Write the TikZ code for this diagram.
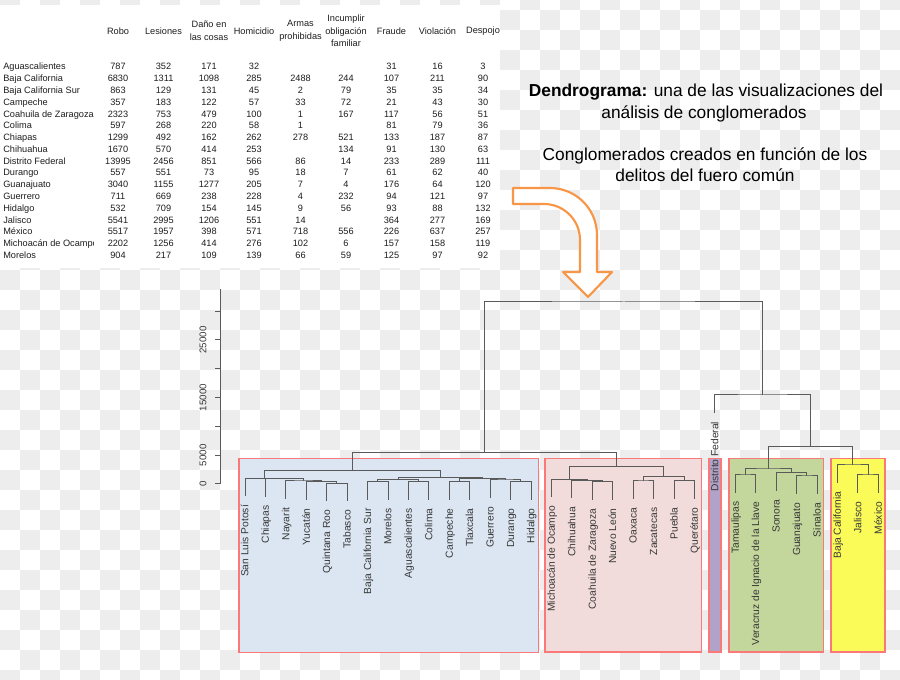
\documentclass[tikz,border=0pt]{standalone}
\usepackage{fontspec}
\setmainfont{Liberation Sans}
\usetikzlibrary{positioning, calc}

\definecolor{checkg}{RGB}{237,237,237}
\definecolor{tabink}{RGB}{30,30,30}
\definecolor{labink}{RGB}{55,55,55}
\definecolor{linegray}{RGB}{90,90,90}
\definecolor{boxred}{RGB}{250,120,120}
\definecolor{bluefill}{RGB}{220,230,242}
\definecolor{pinkfill}{RGB}{242,220,219}
\definecolor{lilacfill}{RGB}{178,162,199}
\definecolor{greenfill}{RGB}{195,214,155}
\definecolor{yellowfill}{RGB}{250,250,88}
\definecolor{arroworange}{RGB}{247,150,70}

% leaf of the dendrogram: end of the hanging line, and its label
\newcommand{\dleaf}[4]{%
  \coordinate (#1) at ({245+20.43*#2},{#3+18});
  \node[leaflab] (#1lab) at ({245+20.43*#2},{#3+26.5}) {#4};}
% merge of two branches at a given height
\newcommand{\dmerge}[4]{%
  \path (#2) -- (#3) coordinate[pos=.5] (#1M);
  \coordinate (#1H) at (0,#4);
  \coordinate (#1) at (#1M |- #1H);
  \draw[dlink] (#2) |- (#1) -| (#3);}

\begin{document}
\begin{tikzpicture}[x=0.75pt, y=-0.75pt,
  tabtxt/.style={font=\fontsize{6.9}{8}\selectfont, text=tabink, inner sep=0pt},
  tabhead/.style={tabtxt, align=center, font=\fontsize{6.9}{9.5}\selectfont},
  ttl/.style={font=\fontsize{13}{16}\selectfont, text=black, inner sep=0pt},
  leaflab/.style={font=\fontsize{7.7}{9}\selectfont, text=labink, rotate=90,
    anchor=east, inner sep=0pt, text height=.72em, text depth=.2em},
  axlab/.style={font=\fontsize{7.3}{9}\selectfont, text=labink, rotate=90, inner sep=0pt},
  dlink/.style={draw=linegray, line width=0.75pt},
  axisln/.style={draw=linegray, line width=0.75pt},
  clbox/.style={draw=boxred, line width=1pt},
  bigarrow/.style={draw=arroworange, line width=1.6pt, fill=white, line join=round}
]
  \useasboundingbox (0,0) rectangle (900,680);
  \clip (0,0) rectangle (900,680);

  % checkerboard background
  \foreach \j in {-1,...,33} {
    \foreach \i in {0,...,44} {
      \ifodd\numexpr\i+\j+2\relax
        \fill[checkg] ({20*\i},{10+20*\j}) rectangle +(20,20);
      \fi
    }
  }

  % data table
  \fill[white] (0,5) rectangle (500,268);
  \node[tabhead] (h-robo) at (118,31) {Robo};
  \node[tabhead] (h-les) at (163.5,31) {Lesiones};
  \node[tabhead] (h-dano) at (209,31) {Daño en\\las cosas};
  \node[tabhead] (h-hom) at (254,31) {Homicidio};
  \node[tabhead] (h-armas) at (300.5,31) {Armas\\prohibidas};
  \node[tabhead] (h-inc) at (346,31) {Incumplir\\obligación\\familiar};
  \node[tabhead] (h-fra) at (391.5,31) {Fraude};
  \node[tabhead] (h-vio) at (437.5,31) {Violación};
  \node[tabhead] (h-desp) at (483,31) {Despojo};

  \begin{scope}
    \clip (0,5) rectangle (93,268);
    \foreach \nm [count=\k from 0] in {Aguascalientes, Baja California,
      Baja California Sur, Campeche, Coahuila de Zaragoza, Colima, Chiapas,
      Chihuahua, Distrito Federal, Durango, Guanajuato, Guerrero, Hidalgo,
      Jalisco, México, Michoacán de Ocampo, Morelos}
      \node[tabtxt, anchor=base west] (st-\k) at (3,{69.9+11.78*\k}) {\nm};
  \end{scope}

  \foreach \row [count=\k from 0] in {
    {787,352,171,32,,,31,16,3},
    {6830,1311,1098,285,2488,244,107,211,90},
    {863,129,131,45,2,79,35,35,34},
    {357,183,122,57,33,72,21,43,30},
    {2323,753,479,100,1,167,117,56,51},
    {597,268,220,58,1,,81,79,36},
    {1299,492,162,262,278,521,133,187,87},
    {1670,570,414,253,,134,91,130,63},
    {13995,2456,851,566,86,14,233,289,111},
    {557,551,73,95,18,7,61,62,40},
    {3040,1155,1277,205,7,4,176,64,120},
    {711,669,238,228,4,232,94,121,97},
    {532,709,154,145,9,56,93,88,132},
    {5541,2995,1206,551,14,,364,277,169},
    {5517,1957,398,571,718,556,226,637,257},
    {2202,1256,414,276,102,6,157,158,119},
    {904,217,109,139,66,59,125,97,92}} {
    \foreach \v [count=\c from 0] in \row {
      \pgfmathsetmacro\cx{{118,163.5,209,254,300.5,346,391.5,437.5,483}[\c]}
      \node[tabtxt, anchor=base] (v-\k-\c) at (\cx,{69.9+11.78*\k}) {\v};
    }
  }

  % title
  \node[ttl, anchor=base] (ttl-1) at (706,96.7) {\textbf{Dendrograma:} una de las visualizaciones del};
  \node[ttl, anchor=base] (ttl-2) at (704,118.3) {análisis de conglomerados};
  \node[ttl, anchor=base] (sub-1) at (705,160.5) {Conglomerados creados en función de los};
  \node[ttl, anchor=base] (sub-2) at (705,181.5) {delitos del fuero común};

  % curved arrow
  \draw[bigarrow] (513,188) -- (550,188) arc[start angle=-90, end angle=0, radius=47]
    -- (597,272) -- (612,272) -- (588,297) -- (563,272) -- (580,272) -- (580,240)
    arc[start angle=0, end angle=-90, radius=36] -- (513,204) -- cycle;

  % cluster boxes
  \draw[clbox, fill=bluefill] (239,458.3) rectangle (538.3,652.5);
  \draw[clbox, fill=pinkfill] (545,458.3) rectangle (701.7,652);
  \draw[clbox, fill=lilacfill] (709,458.3) rectangle (721,652);
  \draw[clbox, fill=greenfill] (729,458.3) rectangle (823.3,652);
  \draw[clbox, fill=yellowfill] (831,458.3) rectangle (885,652);

  % leaves
  \dleaf{slp}{0}{478.3}{San Luis Potosí}
  \dleaf{chs}{1}{478.8}{Chiapas}
  \dleaf{nay}{2}{481}{Nayarit}
  \dleaf{yuc}{3}{481.7}{Yucatán}
  \dleaf{qroo}{4}{483.3}{Quintana Roo}
  \dleaf{tab}{5}{483.3}{Tabasco}
  \dleaf{bcs}{6}{481.7}{Baja California Sur}
  \dleaf{mor}{7}{481.7}{Morelos}
  \dleaf{ags}{8}{481.7}{Aguascalientes}
  \dleaf{col}{9}{481.7}{Colima}
  \dleaf{camp}{10}{481.7}{Campeche}
  \dleaf{tlax}{11}{481.7}{Tlaxcala}
  \dleaf{gro}{12}{480}{Guerrero}
  \dleaf{dgo}{13}{481.7}{Durango}
  \dleaf{hgo}{14}{481.7}{Hidalgo}
  \dleaf{mich}{15}{479.3}{Michoacán de Ocampo}
  \dleaf{chih}{16}{480.3}{Chihuahua}
  \dleaf{coah}{17}{481.7}{Coahuila de Zaragoza}
  \dleaf{nl}{18}{481.7}{Nuevo León}
  \dleaf{oax}{19}{481}{Oaxaca}
  \dleaf{zac}{20}{481}{Zacatecas}
  \dleaf{pue}{21}{480.7}{Puebla}
  \dleaf{qro}{22}{480.7}{Querétaro}
  \dleaf{df}{23}{395}{Distrito Federal}
  \dleaf{tamps}{24}{475}{Tamaulipas}
  \dleaf{ver}{25}{475}{Veracruz de Ignacio de la Llave}
  \dleaf{son}{26}{472.7}{Sonora}
  \dleaf{gto}{27}{476}{Guanajuato}
  \dleaf{sin}{28}{476}{Sinaloa}
  \dleaf{bc}{29}{465}{Baja California}
  \dleaf{jal}{30}{475}{Jalisco}
  \dleaf{mex}{31}{475}{México}

  % merges
  \dmerge{mqt}{qroo}{tab}{483.3}
  \dmerge{myuc}{yuc}{mqt}{481.7}
  \dmerge{mnay}{nay}{myuc}{481}
  \dmerge{mchs}{chs}{mnay}{478.8}
  \dmerge{mslp}{slp}{mchs}{478.3}
  \dmerge{ma}{bcs}{mor}{481.7}
  \dmerge{mb}{ags}{col}{481.7}
  \dmerge{mab}{ma}{mb}{479.3}
  \dmerge{mc}{camp}{tlax}{481.7}
  \dmerge{md}{dgo}{hgo}{481.7}
  \dmerge{mgd}{gro}{md}{480}
  \dmerge{mcgd}{mc}{mgd}{478.3}
  \dmerge{mbr}{mab}{mcgd}{477.3}
  \dmerge{mblue}{mslp}{mbr}{470.7}
  \dmerge{mcn}{coah}{nl}{481.7}
  \dmerge{mch}{chih}{mcn}{480.3}
  \dmerge{mmi}{mich}{mch}{479.3}
  \dmerge{moz}{oax}{zac}{481}
  \dmerge{mpq}{pue}{qro}{480.7}
  \dmerge{mpr}{moz}{mpq}{476.7}
  \dmerge{mpink}{mmi}{mpr}{466.7}
  \dmerge{mleft}{mblue}{mpink}{452.7}
  \dmerge{mtv}{tamps}{ver}{475}
  \dmerge{mgs}{gto}{sin}{476}
  \dmerge{mso}{son}{mgs}{472.7}
  \dmerge{mgreen}{mtv}{mso}{469}
  \dmerge{mjm}{jal}{mex}{475}
  \dmerge{my}{bc}{mjm}{465}
  \dmerge{mgy}{mgreen}{my}{446.7}
  \dmerge{mright}{df}{mgy}{395}
  \dmerge{mtop}{mleft}{mright}{302}

  % height axis
  \draw[axisln] (220.7,289) -- (220.7,484);
  \foreach \k in {0,...,6}
    \draw[axisln] (215,{484-28.8*\k}) -- (220.7,{484-28.8*\k});
  \foreach \v/\y in {0/484, 5000/455.2, 15000/397.6, 25000/340}
    \node[axlab] (ax-\v) at (203,\y) {\v};
\end{tikzpicture}
\end{document}
